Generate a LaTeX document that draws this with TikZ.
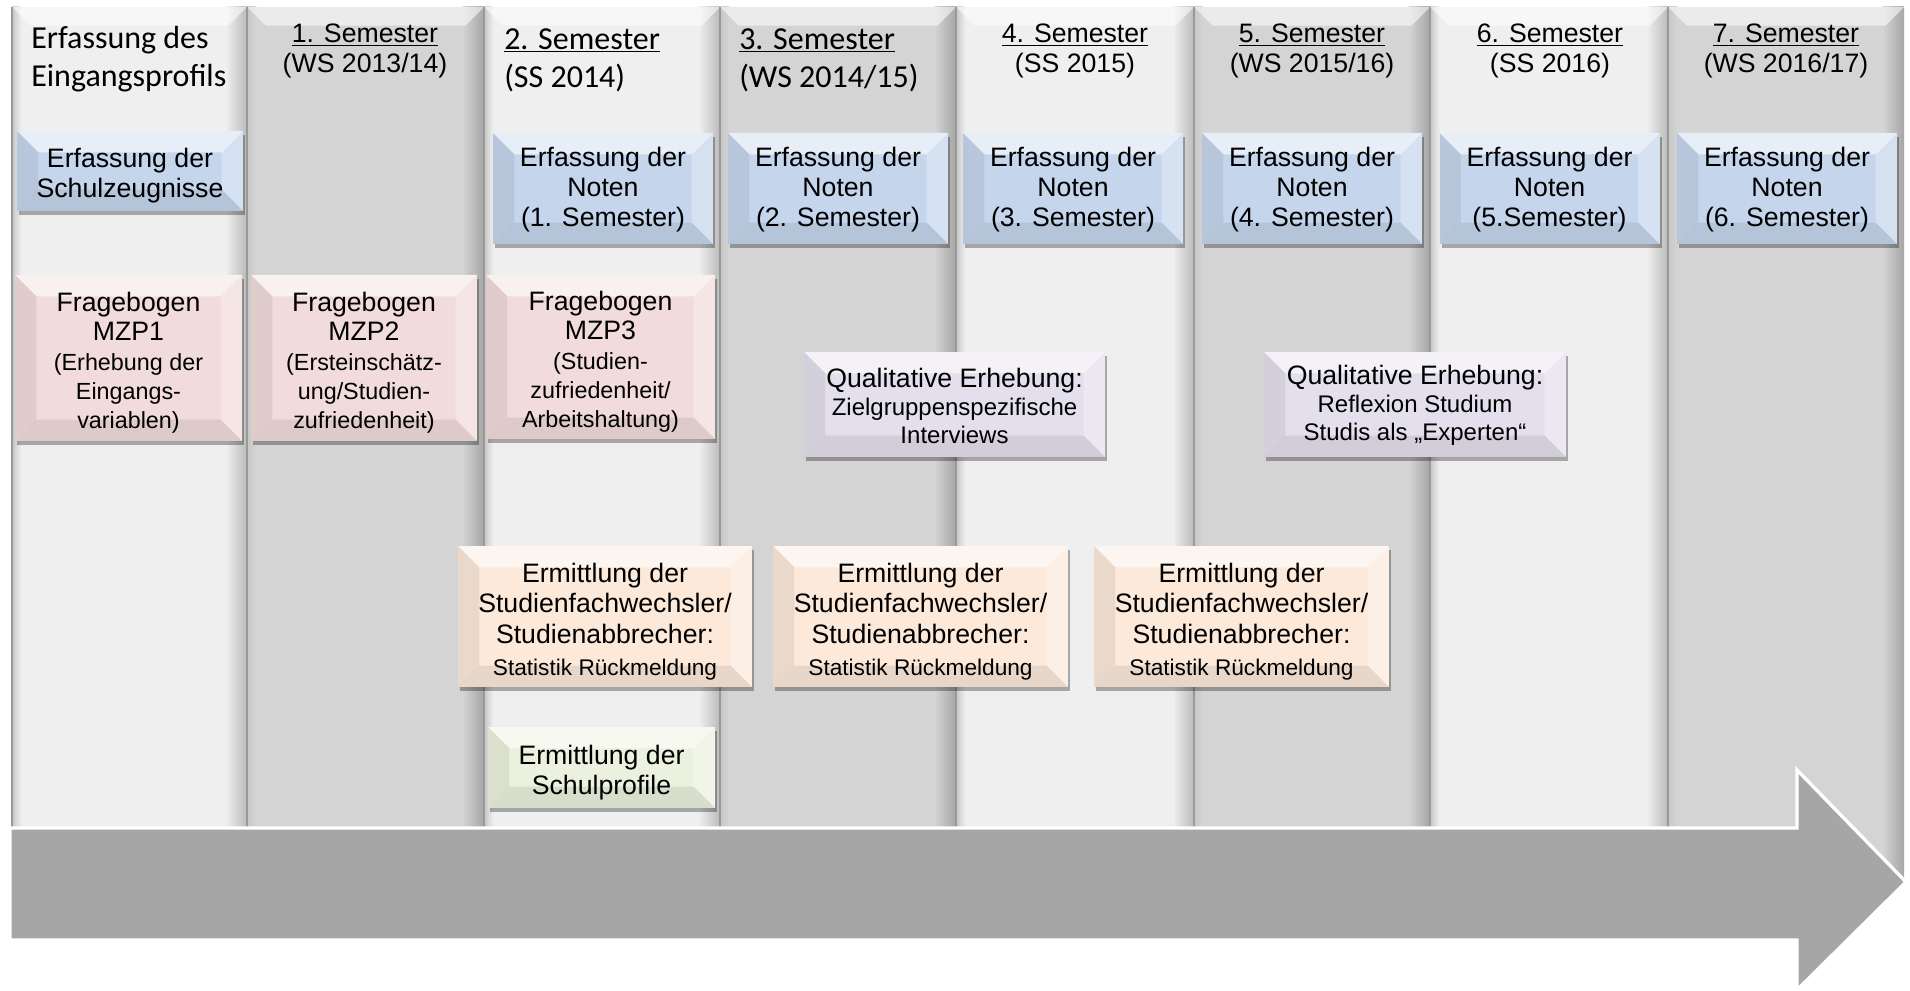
\documentclass[tikz,border=0pt]{standalone}
\usepackage{fontspec}
\setmainfont{Liberation Sans}
\newfontfamily\calibri{Carlito}
\usetikzlibrary{shadows}
\definecolor{colL}{HTML}{EFEFEF}
\definecolor{colD}{HTML}{D4D4D4}
\definecolor{blueC}{HTML}{C5D6EC}
\definecolor{pinkC}{HTML}{F1DCDB}
\definecolor{lavC}{HTML}{E4DFEC}
\definecolor{orC}{HTML}{FCE9DA}
\definecolor{grC}{HTML}{EBF1DE}
\definecolor{arrC}{HTML}{A6A6A6}
\newcommand\hul[1]{\setbox0\hbox{#1}\rlap{\rule[-2.4pt]{\wd0}{1pt}}\box0}
\newcommand\tp{\rule{0pt}{22pt}}
\newcommand\tq{\rule{0pt}{16pt}}
\newcommand\smf{\fontsize{17.5}{22}\selectfont}
\newcommand\qsm{\fontsize{18}{21}\selectfont}
\newcommand\osm{\fontsize{17}{23}\selectfont}
\newcommand\semcol[3]{%
  \fill[#3] (#1,7) rectangle (#2,880);
  \shade[left color=black!22, right color=#3] (#1,7) rectangle ([xshift=7pt]#1,880);
  \shade[left color=#3, right color=#3!78!black] ([xshift=-16pt]#2,7) rectangle (#2,880);
  \fill[white,opacity=.55] (#1,7) -- (#2,7) -- ([xshift=-14pt,yshift=-14pt]#2,7) -- ([xshift=14pt,yshift=-14pt]#1,7) -- cycle;
  \draw[black!40, line width=1pt] (#1,7) -- (#1,880);
}
\tikzset{
  sz/.style 2 args={minimum width=#1*0.75pt, minimum height=#2*0.75pt},
  bx/.style={fill=#1, inner sep=0pt, align=center, font=\fontsize{20}{22.5}\selectfont,
    drop shadow={shadow xshift=1.5pt, shadow yshift=-3pt, opacity=.3, fill=black},
    path picture={
      \fill[white,opacity=.6] (path picture bounding box.north west) -- (path picture bounding box.north east) -- ([xshift=-16pt,yshift=-16pt]path picture bounding box.north east) -- ([xshift=16pt,yshift=-16pt]path picture bounding box.north west) -- cycle;
      \fill[black,opacity=.07] (path picture bounding box.north west) -- ([xshift=16pt,yshift=-16pt]path picture bounding box.north west) -- ([xshift=16pt,yshift=16pt]path picture bounding box.south west) -- (path picture bounding box.south west) -- cycle;
      \fill[white,opacity=.3] (path picture bounding box.north east) -- ([xshift=-16pt,yshift=-16pt]path picture bounding box.north east) -- ([xshift=-16pt,yshift=16pt]path picture bounding box.south east) -- (path picture bounding box.south east) -- cycle;
      \fill[black,opacity=.08] (path picture bounding box.south west) -- ([xshift=16pt,yshift=16pt]path picture bounding box.south west) -- ([xshift=-16pt,yshift=16pt]path picture bounding box.south east) -- (path picture bounding box.south east) -- cycle;
    }},
  hdr/.style={inner sep=0pt, align=center, anchor=north, font=\fontsize{20}{22.5}\selectfont},
  chdr/.style={inner sep=0pt, align=left, anchor=north west, font=\calibri\fontsize{24}{28.5}\selectfont},
}
\begin{document}
\begin{tikzpicture}[x=0.75pt,y=-0.75pt]
\useasboundingbox (0,0) rectangle (1910,991);
% columns
\semcol{12}{247}{colL}
\semcol{247}{484}{colD}
\semcol{484}{720}{colL}
\semcol{720}{956}{colD}
\semcol{956}{1194}{colL}
\semcol{1194}{1430}{colD}
\semcol{1430}{1668}{colL}
\semcol{1668}{1904}{colD}
% headers
\node[chdr] (h1) at (31,26) {Erfassung des\\Eingangsprofils};
\node[hdr] (h2) at (365,24) {\hul{1. Semester}\\(WS 2013/14)};
\node[chdr] (h3) at (504,28) {\hul{2. Semester}\\(SS 2014)};
\node[chdr] (h4) at (739,28) {\hul{3. Semester}\\(WS 2014/15)};
\node[hdr] (h5) at (1075,24) {\hul{4. Semester}\\(SS 2015)};
\node[hdr] (h6) at (1312,24) {\hul{5. Semester}\\(WS 2015/16)};
\node[hdr] (h7) at (1550,24) {\hul{6. Semester}\\(SS 2016)};
\node[hdr] (h8) at (1786,24) {\hul{7. Semester}\\(WS 2016/17)};
% blue boxes
\node[bx=blueC, sz={226}{80}] (b0) at (130,171) {\tp Erfassung der\\Schulzeugnisse};
\node[bx=blueC, sz={220}{111}] (b3) at (603,188.5) {\tq Erfassung der\\Noten\\(1. Semester)};
\node[bx=blueC, sz={220}{111}] (b4) at (838,188.5) {\tq Erfassung der\\Noten\\(2. Semester)};
\node[bx=blueC, sz={220}{111}] (b5) at (1073,188.5) {\tq Erfassung der\\Noten\\(3. Semester)};
\node[bx=blueC, sz={220}{111}] (b6) at (1312,188.5) {\tq Erfassung der\\Noten\\(4. Semester)};
\node[bx=blueC, sz={220}{111}] (b7) at (1549.5,188.5) {\tq Erfassung der\\Noten\\(5.Semester)};
\node[bx=blueC, sz={220}{111}] (b8) at (1787,188.5) {\tq Erfassung der\\Noten\\(6. Semester)};
% pink boxes
\node[bx=pinkC, font=\fontsize{20}{22}\selectfont, sz={227}{166}] (p1) at (128.5,358) {\tp Fragebogen\\MZP1\\\smf (Erhebung der\\\smf Eingangs-\\\smf variablen)};
\node[bx=pinkC, font=\fontsize{20}{22}\selectfont, sz={226}{166}] (p2) at (364,358) {\tp Fragebogen\\MZP2\\\smf (Ersteinschätz-\\\smf ung/Studien-\\\smf zufriedenheit)};
\node[bx=pinkC, font=\fontsize{20}{22}\selectfont, sz={229}{164}] (p3) at (600.5,357) {\tp Fragebogen\\MZP3\\\smf (Studien-\\\smf zufriedenheit/\\\smf Arbeitshaltung)};
% lavender boxes
\node[bx=lavC, font=\fontsize{20}{21}\selectfont, sz={301}{105}] (q1) at (954.5,404.5) {\tq Qualitative Erhebung:\\\qsm Zielgruppenspezifische\\\qsm Interviews};
\node[bx=lavC, font=\fontsize{20}{21}\selectfont, sz={302}{105}] (q2) at (1415,404.5) {\tq Qualitative Erhebung:\\\qsm Reflexion Studium\\\qsm Studis als „Experten“};
% orange boxes
\node[bx=orC, font=\fontsize{20}{23}\selectfont, sz={294}{141}] (o1) at (605,616.5) {\tp Ermittlung der\\Studienfachwechsler/\\Studienabbrecher:\\[1pt]\osm Statistik Rückmeldung};
\node[bx=orC, font=\fontsize{20}{23}\selectfont, sz={295}{141}] (o2) at (920.5,616.5) {\tp Ermittlung der\\Studienfachwechsler/\\Studienabbrecher:\\[1pt]\osm Statistik Rückmeldung};
\node[bx=orC, font=\fontsize{20}{23}\selectfont, sz={295}{141}] (o3) at (1241.5,616.5) {\tp Ermittlung der\\Studienfachwechsler/\\Studienabbrecher:\\[1pt]\osm Statistik Rückmeldung};
% green box
\node[bx=grC, sz={227}{81}] (g1) at (601.5,767.5) {\tp Ermittlung der\\Schulprofile};
% time arrow
\fill[arrC, draw=white, line width=2.5pt, line join=miter]
  (10,828) -- (1797,828) -- (1797,770) -- (1906,882) -- (1797,990) -- (1797,940) -- (10,940) -- cycle;
\end{tikzpicture}
\end{document}
